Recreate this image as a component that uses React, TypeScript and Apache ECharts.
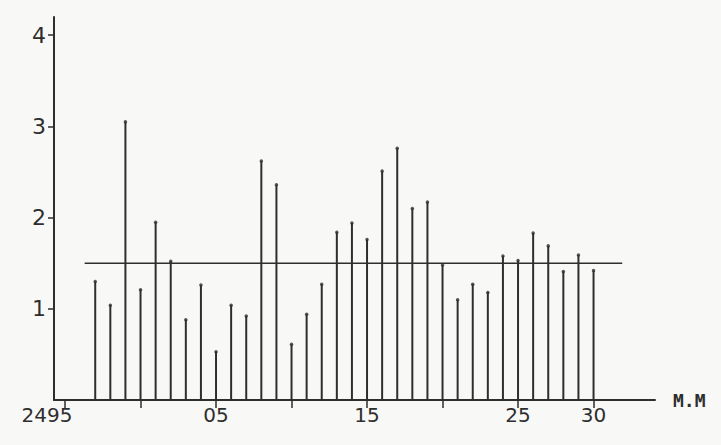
import React, { useEffect, useRef } from "react";
import * as echarts from "echarts";

// Julian day numbers (last digits 2497..2530) and measured values
const days = [
  2497, 2498, 2499, 2500, 2501, 2502, 2503, 2504, 2505, 2506, 2507, 2508,
  2509, 2510, 2511, 2512, 2513, 2514, 2515, 2516, 2517, 2518, 2519, 2520,
  2521, 2522, 2523, 2524, 2525, 2526, 2527, 2528, 2529, 2530,
];
const values = [
  1.3, 1.04, 3.05, 1.21, 1.95, 1.52, 0.88, 1.26, 0.53, 1.04, 0.92, 2.62,
  2.36, 0.61, 0.94, 1.27, 1.84, 1.94, 1.76, 2.51, 2.76, 2.1, 2.17, 1.48,
  1.1, 1.27, 1.18, 1.58, 1.53, 1.83, 1.69, 1.41, 1.59, 1.42,
];
const meanValue = 1.5;
const meanRange = [2496.3, 2531.9];
const xTicks = [2495, 2500, 2505, 2510, 2515, 2520, 2525, 2530];
const xLabelValues = [2495, 2505, 2515, 2525, 2530];
const xLabelText: Record<number, string> = {
  2495: "2495",
  2505: "05",
  2515: "15",
  2525: "25",
  2530: "30",
};
const yTicks = [1, 2, 3, 4];
const xAxisName = "M.M";

export default function App() {
  const ref = useRef<HTMLDivElement>(null);
  useEffect(() => {
    document.body.style.margin = "0";
    const chart = echarts.init(ref.current!, undefined, { renderer: "svg" });
    const ink = "#2e2e2e";
    chart.setOption({
      animation: false,
      backgroundColor: "#f8f8f7",
      grid: { left: 54, right: 66, top: 17, bottom: 45 },
      xAxis: {
        type: "value",
        min: 2494.27,
        max: 2534.07,
        name: xAxisName,
        nameLocation: "end",
        nameGap: 18,
        nameTextStyle: {
          color: ink,
          fontSize: 18,
          fontFamily: "DejaVu Sans Mono",
          fontWeight: "bold",
        },
        axisLine: { show: true, lineStyle: { color: ink, width: 2 } },
        axisTick: {
          show: true,
          customValues: xTicks,
          inside: false,
          length: 8,
          lineStyle: { color: ink, width: 1.5 },
        },
        axisLabel: {
          customValues: xLabelValues,
          formatter: (v: number) =>
            v === 2495 ? "{first|" + xLabelText[v] + "}" : xLabelText[v] ?? "",
          color: ink,
          fontSize: 20,
          fontFamily: "DejaVu Sans",
          margin: 5,
          rich: {
            first: {
              color: ink,
              fontSize: 20,
              fontFamily: "DejaVu Sans",
              padding: [0, 36, 0, 0],
            },
          },
        },
        splitLine: { show: false },
      },
      yAxis: {
        type: "value",
        min: 0,
        max: 4.2,
        axisLine: { show: true, lineStyle: { color: ink, width: 2 } },
        axisTick: {
          show: true,
          customValues: yTicks,
          length: 6,
          lineStyle: { color: ink, width: 1.5 },
        },
        axisLabel: {
          customValues: yTicks,
          color: ink,
          fontSize: 22,
          fontFamily: "DejaVu Sans",
          margin: 8,
        },
        splitLine: { show: false },
      },
      series: [
        {
          type: "bar",
          data: days.map((d, i) => [d, values[i]]),
          barWidth: 2,
          itemStyle: { color: ink },
          silent: true,
        },
        {
          type: "scatter",
          data: days.map((d, i) => [d, values[i]]),
          symbol: "circle",
          symbolSize: 3.5,
          itemStyle: { color: ink },
          silent: true,
        },
        {
          type: "line",
          data: [
            [meanRange[0], meanValue],
            [meanRange[1], meanValue],
          ],
          symbol: "none",
          lineStyle: { color: ink, width: 1.5 },
          silent: true,
        },
      ],
    });
    return () => chart.dispose();
  }, []);
  return (
    <div
      ref={ref}
      style={{ position: "fixed", left: 0, top: 0, width: 721, height: 445 }}
    />
  );
}
